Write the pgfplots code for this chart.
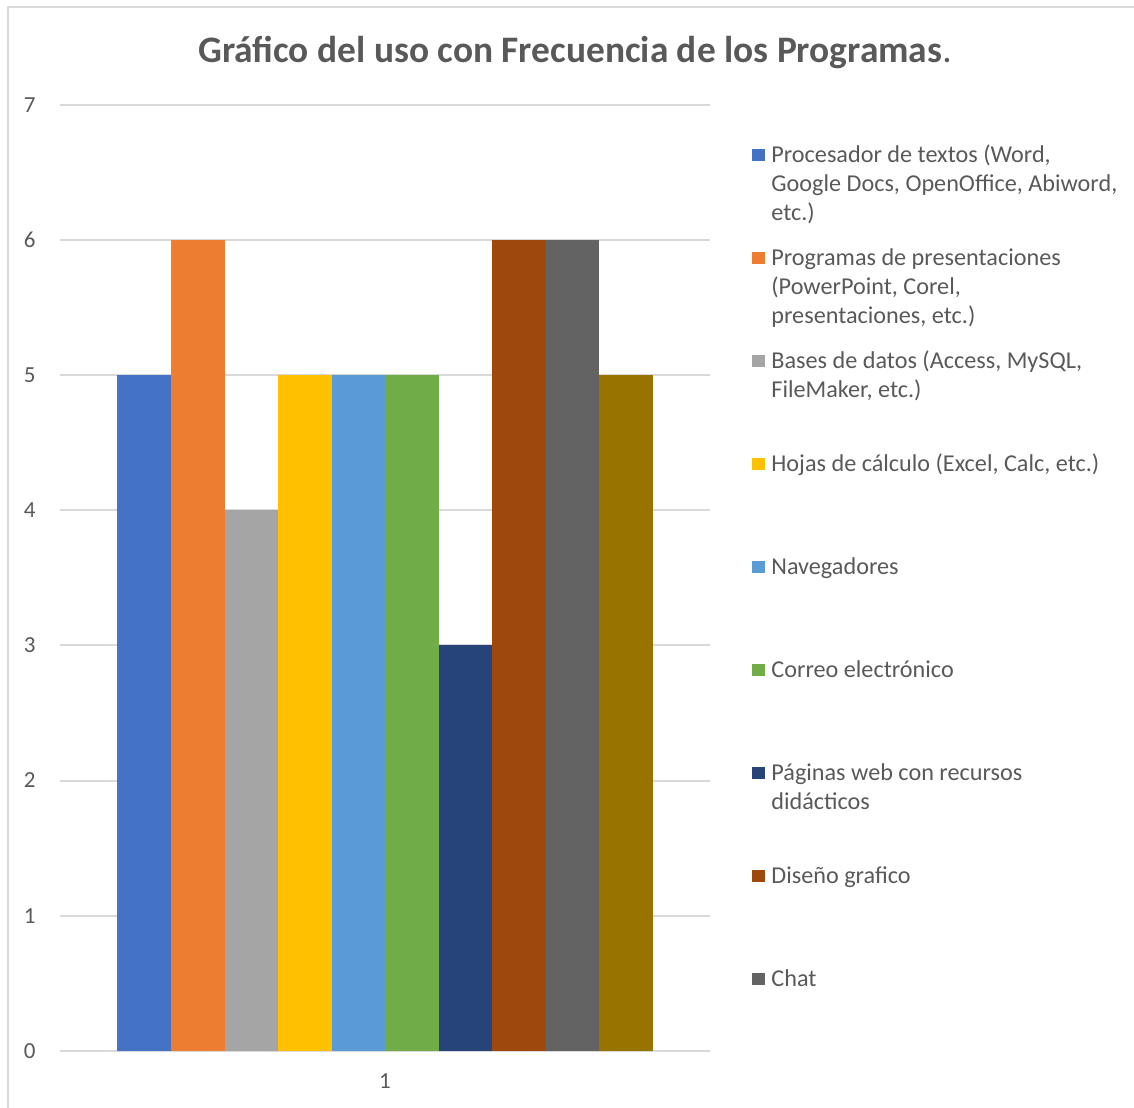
\documentclass[border=0pt]{standalone}
\usepackage{pgfplots}
\pgfplotsset{compat=1.18}
\usepackage{fontspec}
\setmainfont{Carlito}

\definecolor{txt}{HTML}{595959}
\definecolor{gridc}{HTML}{D9D9D9}
\definecolor{c1}{HTML}{4472C4}
\definecolor{c2}{HTML}{ED7D31}
\definecolor{c3}{HTML}{A5A5A5}
\definecolor{c4}{HTML}{FFC000}
\definecolor{c5}{HTML}{5B9BD5}
\definecolor{c6}{HTML}{70AD47}
\definecolor{c7}{HTML}{264478}
\definecolor{c8}{HTML}{9E480E}
\definecolor{c9}{HTML}{636363}
\definecolor{c10}{HTML}{997300}

% legend entries: one line tall for the matrix, further lines hang below
\newcommand\entry[1]{\raisebox{0pt}[10bp][0pt]{\parbox[t]{180bp}{\raggedright #1}}}

\pgfplotsset{
  sqlegend/.style={legend image code/.code={\path[##1,draw=none] (0bp,0.5bp) rectangle (6.5bp,6.5bp);}}
}

\begin{document}
\begin{tikzpicture}
\path[use as bounding box] (0,0) rectangle (567bp,554bp);
% chart frame
\draw[gridc, line width=1bp] (3.75bp,0) -- (3.75bp,550.5bp) -- (567bp,550.5bp);
% title
\node[anchor=base, text=txt, font=\fontsize{18.7bp}{22bp}\selectfont, inner sep=0pt]
  at (287.5bp,522.5bp) {\bfseries Gráfico del uso con Frecuencia de los Programas\mdseries.};

\begin{axis}[
  at={(30bp,28.65bp)}, anchor=south west,
  scale only axis, width=325bp, height=472.85bp,
  ybar=0pt, bar width=26.75bp,
  every axis plot post/.append style={sqlegend},
  xmin=0, xmax=2, ymin=0, ymax=7,
  xtick={1}, xticklabels={1},
  ytick={0,1,2,3,4,5,6,7},
  /pgf/number format/assume math mode=true,
  axis line style={draw=none},
  major tick length=0pt,
  ymajorgrids, grid style={gridc, line width=1bp},
  ticklabel style={text=txt, font=\fontsize{11.5bp}{14bp}\selectfont, inner sep=0pt},
  yticklabel style={anchor=east, xshift=-12bp},
  xticklabel style={anchor=base, yshift=-19bp},
  legend style={at={(1.06462,0.96087)}, anchor=north west, draw=none, fill=none,
    inner sep=0pt, row sep=40bp, column sep=3bp,
    cells={anchor=base west},
    nodes={inner sep=0pt, text=txt},
    font=\fontsize{12.1bp}{14.5bp}\selectfont},
]
\addplot[fill=c1, draw=none] coordinates {(1,5)};
\addlegendentry{\entry{Procesador de textos (Word,\\Google Docs, OpenOffice, Abiword,\\etc.)}}
\addplot[fill=c2, draw=none] coordinates {(1,6)};
\addlegendentry{\entry{Programas de presentaciones\\(PowerPoint, Corel,\\presentaciones, etc.)}}
\addplot[fill=c3, draw=none] coordinates {(1,4)};
\addlegendentry{\entry{Bases de datos (Access, MySQL,\\FileMaker, etc.)}}
\addplot[fill=c4, draw=none] coordinates {(1,5)};
\addlegendentry{\entry{Hojas de cálculo (Excel, Calc, etc.)}}
\addplot[fill=c5, draw=none] coordinates {(1,5)};
\addlegendentry{\entry{Navegadores}}
\addplot[fill=c6, draw=none] coordinates {(1,5)};
\addlegendentry{\entry{Correo electrónico}}
\addplot[fill=c7, draw=none] coordinates {(1,3)};
\addlegendentry{\entry{Páginas web con recursos\\didácticos}}
\addplot[fill=c8, draw=none] coordinates {(1,6)};
\addlegendentry{\entry{Diseño grafico}}
\addplot[fill=c9, draw=none] coordinates {(1,6)};
\addlegendentry{\entry{Chat}}
\addplot[fill=c10, draw=none] coordinates {(1,5)};
\end{axis}
\end{tikzpicture}
\end{document}
